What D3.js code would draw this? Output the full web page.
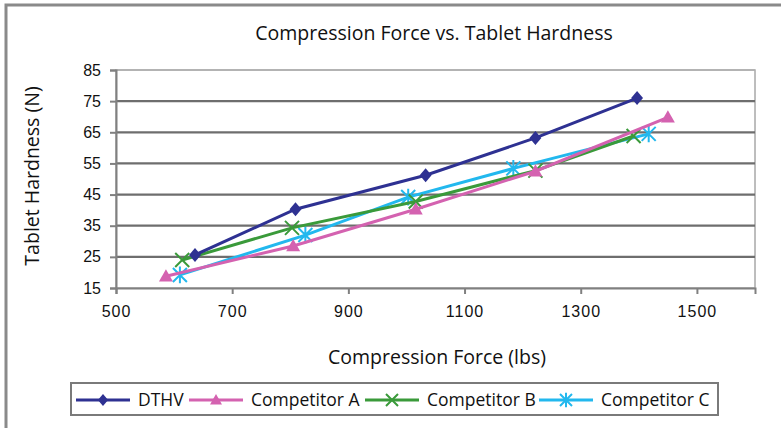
<!DOCTYPE html>
<html><head><meta charset="utf-8">
<script src="https://cdn.jsdelivr.net/npm/d3@7"></script>
<style>body{margin:0;background:#fff;}svg{display:block;font-family:"Open Sans","Noto Sans",sans-serif;}</style>
</head><body><svg id="c" width="781" height="428"></svg>
<script>
const xTicks = [500, 700, 900, 1100, 1300, 1500];
const yTicks = [15, 25, 35, 45, 55, 65, 75, 85];
const seriesNames = ["DTHV", "Competitor A", "Competitor B", "Competitor C"];
const seriesColors = ["#2e3192", "#d462b0", "#3a9a3a", "#22b8ee"];
const dthv = [[636, 25.6], [809, 40.3], [1033, 51.2], [1222, 63.2], [1397, 76]];
const compA = [[586, 18.8], [805, 28.5], [1016, 40.3], [1222, 52.5], [1450, 69.8]];
const compB = [[614, 24], [803, 34.3], [1016, 42.8], [1222, 52.7], [1391, 63.8]];
const compC = [[610, 19.2], [826, 32], [1003, 44.2], [1184, 53.4], [1417, 64.5]];
const allSeries = [dthv, compA, compB, compC];
const markers = ["diamond", "triangle", "x", "star"];

const svg = d3.select("#c");
// outer frame
svg.append("rect").attr("x",6).attr("y",5).attr("width",790).attr("height",440)
  .attr("fill","none").attr("stroke","#8a8a8a").attr("stroke-width",3);

const L=116, R=755, T=70, B=288;
const x = d3.scaleLinear().domain([500,1600]).range([L,R]);
const y = d3.scaleLinear().domain([15,85]).range([B,T]);

// plot border
svg.append("rect").attr("x",L).attr("y",T).attr("width",R-L).attr("height",B-T)
  .attr("fill","none").attr("stroke","#a8a8a8").attr("stroke-width",1.5);
// gridlines
svg.append("g").selectAll("line").data(yTicks.filter(d=>d>15 && d<85)).join("line")
  .attr("x1",L).attr("x2",R).attr("y1",d=>y(d)).attr("y2",d=>y(d))
  .attr("stroke","#6e6e6e").attr("stroke-width",2.2);
svg.append("line").attr("x1",L).attr("x2",R).attr("y1",T).attr("y2",T).attr("stroke","#b0b0b0").attr("stroke-width",1.5);

// axes
const yAxis = svg.append("g").attr("transform",`translate(${L},0)`)
  .call(d3.axisLeft(y).tickValues(yTicks).tickSize(6).tickPadding(9).tickFormat(d3.format("d")));
const xAxis = svg.append("g").attr("transform",`translate(0,${B})`)
  .call(d3.axisBottom(x).tickValues(xTicks).tickSize(6).tickPadding(12).tickFormat(d3.format("d")));
[yAxis,xAxis].forEach(a=>{
  a.select(".domain").attr("stroke","#808080").attr("stroke-width",2);
  a.selectAll(".tick line").attr("stroke","#808080").attr("stroke-width",2);
  a.selectAll("text").attr("font-size",16).attr("fill","#111");
});
xAxis.selectAll("text").attr("letter-spacing",1);

// lines
const line = d3.line().x(d=>x(d[0])).y(d=>y(d[1]));
function marker(g, type, cx, cy, color, s){
  if(type==="diamond"){
    g.append("path").attr("d",`M${cx},${cy-s}L${cx+s*0.85},${cy}L${cx},${cy+s}L${cx-s*0.85},${cy}Z`).attr("fill",color);
  } else if(type==="triangle"){
    g.append("path").attr("d",`M${cx},${cy-s}L${cx+s},${cy+s*0.75}L${cx-s},${cy+s*0.75}Z`).attr("fill",color);
  } else if(type==="x"){
    g.append("path").attr("d",`M${cx-s},${cy-s}L${cx+s},${cy+s}M${cx-s},${cy+s}L${cx+s},${cy-s}`).attr("stroke",color).attr("stroke-width",2);
  } else {
    g.append("path").attr("d",`M${cx-s},${cy-s}L${cx+s},${cy+s}M${cx-s},${cy+s}L${cx+s},${cy-s}M${cx},${cy-s*1.2}L${cx},${cy+s*1.2}`).attr("stroke",color).attr("stroke-width",2);
  }
}
[3,2,1,0].forEach(i=>{
  const g = svg.append("g");
  g.append("path").datum(allSeries[i]).attr("d",line).attr("fill","none")
    .attr("stroke",seriesColors[i]).attr("stroke-width",3);
  allSeries[i].forEach(d=>marker(g, markers[i], x(d[0]), y(d[1]), seriesColors[i], 7));
});

// titles
svg.append("text").attr("x",434).attr("y",40).attr("text-anchor","middle").attr("font-size",19.5).attr("fill","#111")
  .text("Compression Force vs. Tablet Hardness");
svg.append("text").attr("x",437).attr("y",364).attr("text-anchor","middle").attr("font-size",19.5).attr("fill","#111")
  .text("Compression Force (lbs)");
svg.append("text").attr("transform","translate(39,176) rotate(-90)").attr("text-anchor","middle").attr("font-size",19.5).attr("fill","#111")
  .text("Tablet Hardness (N)");

// legend
svg.append("rect").attr("x",71).attr("y",383).attr("width",647).attr("height",32)
  .attr("fill","#fff").attr("stroke","#7a7a7a").attr("stroke-width",2);
const legX = [76, 189, 365, 539];
seriesNames.forEach((n,i)=>{
  const g = svg.append("g");
  const lx = legX[i], ly = 400;
  g.append("line").attr("x1",lx).attr("x2",lx+54).attr("y1",ly).attr("y2",ly).attr("stroke",seriesColors[i]).attr("stroke-width",3);
  marker(g, markers[i], lx+27, ly, seriesColors[i], 6);
  g.append("text").attr("x",lx+62).attr("y",ly+6).attr("font-size",17.5).attr("fill","#111").text(n);
});
</script></body></html>
